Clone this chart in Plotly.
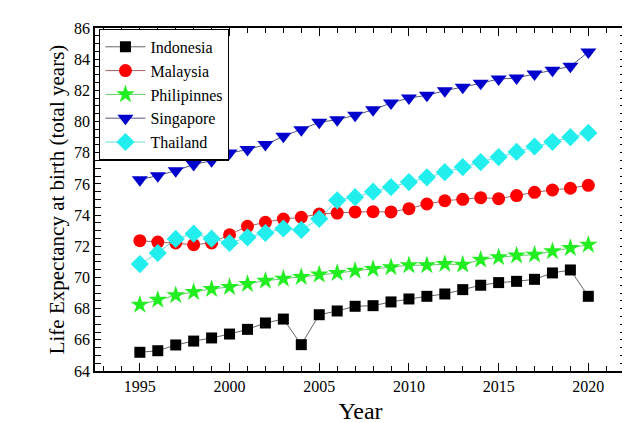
import plotly.graph_objects as go

years = list(range(1995, 2021))

indonesia = [65.2, 65.3, 65.67, 65.92, 66.12, 66.37, 66.67, 67.08, 67.33, 65.69,
             67.61, 67.85, 68.15, 68.19, 68.43, 68.62, 68.79, 68.94, 69.22, 69.5,
             69.67, 69.75, 69.88, 70.29, 70.48, 68.79]
malaysia = [72.36, 72.27, 72.21, 72.1, 72.21, 72.74, 73.28, 73.54, 73.75, 73.86,
            74.07, 74.13, 74.2, 74.22, 74.2, 74.41, 74.71, 74.92, 75.01, 75.12,
            75.05, 75.25, 75.46, 75.61, 75.72, 75.91]
philippines = [68.25, 68.57, 68.85, 69.07, 69.26, 69.39, 69.58, 69.79, 69.92, 70.03,
               70.18, 70.28, 70.43, 70.54, 70.65, 70.78, 70.78, 70.86, 70.82, 71.14,
               71.29, 71.4, 71.46, 71.68, 71.89, 72.1]
singapore = [76.27, 76.53, 76.85, 77.24, 77.49, 77.98, 78.2, 78.52, 79.05, 79.48,
             79.95, 80.12, 80.4, 80.76, 81.19, 81.51, 81.68, 81.98, 82.2, 82.45,
             82.73, 82.79, 83.05, 83.29, 83.54, 84.46]
thailand = [70.86, 71.57, 72.47, 72.81, 72.49, 72.21, 72.57, 72.85, 73.14, 73.05,
            73.76, 74.95, 75.15, 75.5, 75.8, 76.12, 76.42, 76.75, 77.08, 77.4,
            77.72, 78.05, 78.4, 78.7, 79.0, 79.27]

# y ticks: every 0.5, labels only on even values
y_tickvals = [64 + 0.5 * i for i in range(45)]
y_ticktext = [str(int(v)) if v % 2 == 0 else "" for v in y_tickvals]

series = [
    ("Indonesia", indonesia, "square", "#000000", "#666666", 11),
    ("Malaysia", malaysia, "circle", "#ff0000", "#a86060", 13),
    ("Philipinnes", philippines, "star", "#22ee22", "#66cc66", 14),
    ("Singapore", singapore, "triangle-down", "#0000cc", "#555580", 14),
    ("Thailand", thailand, "diamond", "#22eeee", "#66dddd", 14),
]

fig = go.Figure()
for name, vals, sym, mcol, lcol, size in series:
    fig.add_trace(go.Scatter(
        x=years, y=vals, name=name, mode="lines+markers",
        line=dict(color=lcol, width=1),
        marker=dict(symbol=sym, color=mcol, size=size, line=dict(width=0)),
    ))

font = "Liberation Serif"
fig.update_layout(
    width=630, height=423,
    margin=dict(l=87, r=10, t=20, b=60),
    paper_bgcolor="white", plot_bgcolor="white",
    font=dict(family=font, size=16, color="black"),
    showlegend=True,
    legend=dict(x=0.008, y=0.998, xanchor="left", yanchor="top",
                bgcolor="white", bordercolor="black", borderwidth=1.2,
                font=dict(family=font, size=16, color="black"),
                tracegroupgap=0, itemwidth=40),
)
fig.update_xaxes(
    range=[1992.5, 2022.1], tick0=1995, dtick=5,
    ticks="inside", ticklen=8, tickwidth=1.2, tickcolor="black",
    minor=dict(tick0=1995, dtick=1, ticks="inside", ticklen=5, tickcolor="black", tickwidth=1),
    showline=True, linecolor="black", linewidth=1.5, mirror="ticks",
    showgrid=False, zeroline=False,
    title=dict(text="Year", font=dict(family=font, size=24), standoff=8),
    tickfont=dict(family=font, size=16),
)
fig.update_yaxes(
    range=[64, 86], tickmode="array", tickvals=y_tickvals, ticktext=y_ticktext,
    ticks="inside", ticklen=6, tickwidth=1, tickcolor="black",
    showline=True, linecolor="black", linewidth=1.5, mirror="ticks",
    showgrid=False, zeroline=False, ticksuffix="\u2002",
    title=dict(text="Life Expectancy at birth (total years)", font=dict(family=font, size=21), standoff=4),
    tickfont=dict(family=font, size=16),
)

fig.write_html("out.html")
